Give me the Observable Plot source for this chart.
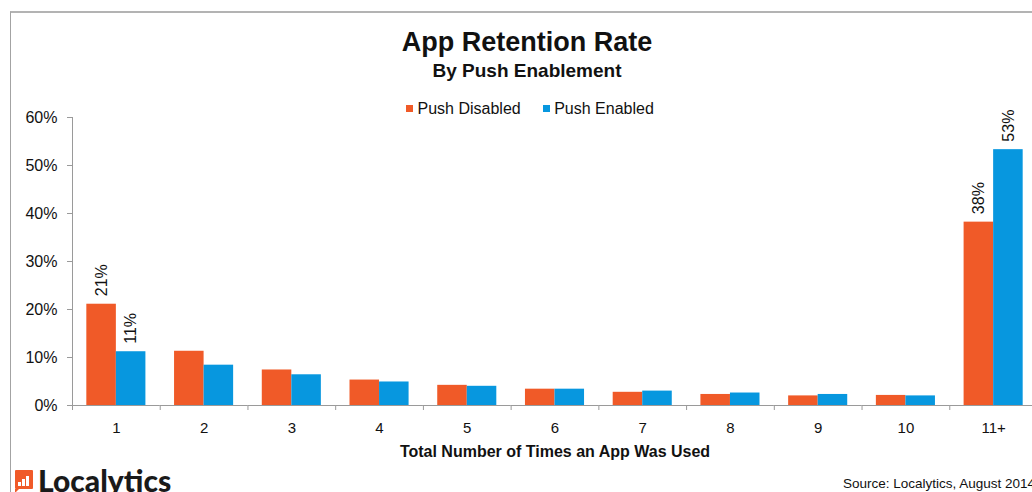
<!DOCTYPE html>
<html>
<head>
<meta charset="utf-8">
<script src="https://cdn.jsdelivr.net/npm/d3@7"></script>
<script src="https://cdn.jsdelivr.net/npm/@observablehq/plot@0.6"></script>
<style>
  html, body { margin: 0; padding: 0; background: #fff; overflow: hidden; }
  #wrap { position: relative; width: 1032px; height: 492px; overflow: hidden;
          font-family: "Liberation Sans", Arial, sans-serif; color: #111; }
  #frame { position: absolute; left: 10px; top: 11px; width: 1100px; height: 600px;
           border-left: 1px solid #a3a3a3; border-top: 2px solid #b3b3b3; }
  #title { position: absolute; left: 0; width: 1054px; top: 28.8px; text-align: center;
           font-size: 27px; line-height: 27px; font-weight: bold; z-index: 2; }
  #subtitle { position: absolute; left: 0; width: 1054px; top: 60.6px; text-align: center;
              font-size: 19px; line-height: 19px; font-weight: bold; z-index: 2; }
  #legend { position: absolute; left: 406px; top: 100.5px; display: flex; align-items: center;
            font-size: 16px; line-height: 16px; z-index: 2; }
  #legend .item { display: flex; align-items: center; margin-right: 22px; }
  #legend .sw { width: 7px; height: 7px; margin-right: 4.5px; margin-top: -1px; }
  #chart { position: absolute; left: 0; top: 95px; z-index: 1; }
  #logo { position: absolute; left: 15px; top: 470px; width: 18px; height: 19px; background: #F05A28; border-radius: 1px; }
  #logo .b { position: absolute; bottom: 3px; width: 2.5px; background: #fff; }
  #logo .tail { position: absolute; left: 0; bottom: -4px; width: 0; height: 0;
                border-top: 4px solid #F05A28; border-right: 4px solid transparent; }
  #logotext { position: absolute; left: 38px; top: 465px; font-family: Lato, "Open Sans", sans-serif;
              font-weight: 900; font-size: 30px; line-height: 30px; color: #1a1a1a; }
  #source { position: absolute; left: 843px; top: 477px; font-size: 13.5px; line-height: 14px;
            white-space: nowrap; color: #111; }
</style>
</head>
<body>
<div id="wrap">
  <div id="frame"></div>
  <div id="title">App Retention Rate</div>
  <div id="subtitle">By Push Enablement</div>
  <div id="legend"></div>
  <div id="chart"></div>
  <div id="logo"><div class="b" style="left:3px;height:4px"></div><div class="b" style="left:7px;height:7px"></div><div class="b" style="left:11px;height:10px"></div><div class="tail"></div></div>
  <div id="logotext">Localytics</div>
  <div id="source">Source: Localytics, August 2014</div>
</div>
<script>
// ---- data ----
const categories = ["1", "2", "3", "4", "5", "6", "7", "8", "9", "10", "11+"];
const seriesNames = ["Push Disabled", "Push Enabled"];
const pushDisabled = [21.1, 11.3, 7.4, 5.3, 4.2, 3.4, 2.75, 2.3, 2.0, 2.1, 38.2];
const pushEnabled  = [11.2, 8.4, 6.4, 4.9, 4.0, 3.4, 3.0, 2.6, 2.3, 2.0, 53.3];
const labeledCategories = ["1", "11+"];
const yTicks = [0, 10, 20, 30, 40, 50, 60];
const seriesColors = ["#F05A28", "#0797DF"];
const xTitle = "Total Number of Times an App Was Used";

const rows = categories.flatMap((c, i) => [
  {cat: c, series: seriesNames[0], value: pushDisabled[i]},
  {cat: c, series: seriesNames[1], value: pushEnabled[i]}
]);

// legend (built from the series arrays)
const legend = document.getElementById("legend");
seriesNames.forEach((s, i) => {
  const item = document.createElement("div");
  item.className = "item";
  const sw = document.createElement("span");
  sw.className = "sw";
  sw.style.background = seriesColors[i];
  const t = document.createElement("span");
  t.textContent = s;
  item.appendChild(sw); item.appendChild(t);
  legend.appendChild(item);
});

const W = 1037, H = 367, mL = 72, mR = 0, mT = 22, mB = 57;
const step = (W - mL - mR) / categories.length;
const axisGray = "#9a9a9a";

const svg = Plot.plot({
  width: W, height: H,
  marginLeft: mL, marginRight: mR, marginTop: mT, marginBottom: mB,
  style: "background: transparent; max-width: none; overflow: visible; font-family: 'Liberation Sans', Arial, sans-serif; font-size: 15px; color: #111;",
  fx: {domain: categories, padding: 0, round: false, label: null},
  x: {domain: seriesNames, paddingInner: 0, paddingOuter: 0.485, round: false, axis: null},
  y: {domain: [0, 60], axis: null},
  color: {domain: seriesNames, range: seriesColors},
  marks: [
    Plot.barY(rows, {fx: "cat", x: "series", y: "value", fill: "series", inset: 0}),
    Plot.text(rows.filter(d => labeledCategories.includes(d.cat)), {
      fx: "cat", x: "series", y: "value",
      text: d => Math.round(d.value) + "%",
      rotate: -90, textAnchor: "start", dy: -8, fontSize: 16, fill: "#111"
    }),
    Plot.ruleY([0], {stroke: axisGray}),
    Plot.frame({anchor: "left", stroke: axisGray, facetAnchor: "left"}),
    Plot.axisY(yTicks, {tickSize: 5, tickPadding: 10, tickFormat: d => d + "%",
      stroke: axisGray, fill: "#111", fontSize: 16, label: null}),
    Plot.axisFx({anchor: "bottom", tickSize: 0, tickPadding: 17, fontSize: 15, fill: "#111", label: null}),
    Plot.axisFx({anchor: "bottom", tickSize: 5, fill: "none", stroke: axisGray, dx: -step / 2, label: null}),
    Plot.text([xTitle], {text: d => d, frameAnchor: "bottom", facet: "super",
      lineAnchor: "top", dy: 40, fontSize: 16, fontWeight: "bold", fill: "#111"})
  ]
});
svg.style.maxWidth = "none";
document.getElementById("chart").appendChild(svg);
</script>
</body>
</html>
